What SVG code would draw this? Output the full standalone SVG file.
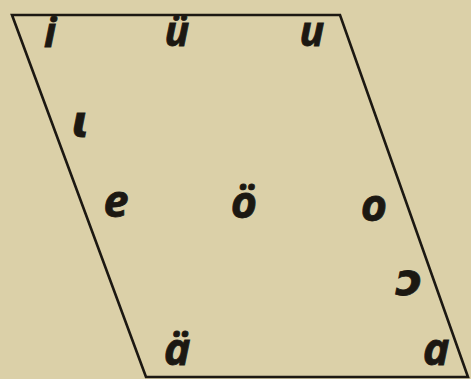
<svg xmlns="http://www.w3.org/2000/svg" width="471" height="379" viewBox="0 0 471 379">
<style>
.v{font-family:"Open Sans","DejaVu Sans",sans-serif;font-weight:bold;font-style:italic;font-size:45px;fill:#1c1812;stroke:#1c1812;stroke-width:0.8;text-anchor:middle}
.top{font-size:41px}
.frame{fill:none;stroke:#1c1812;stroke-width:2.6;stroke-linejoin:miter}
</style>
<rect width="471" height="379" fill="#dbd0a8"/>
<g id="connectors">
<path class="frame" d="M12,15 L340,15 L468,377 L146,377 Z"/>
</g>
<g id="n-i"><text class="v top" x="50" y="47">i</text></g>
<g id="n-ue"><text class="v top" x="177" y="46">ü</text></g>
<g id="n-u"><text class="v top" x="312" y="46">u</text></g>
<g id="n-iota"><text class="v" x="81" y="137">ɩ</text></g>
<g id="n-e"><text class="v" x="116" y="217">e</text></g>
<g id="n-oe"><text class="v" x="244" y="218">ö</text></g>
<g id="n-o"><text class="v" x="374" y="221">o</text></g>
<g id="n-open-o"><text class="v" x="409" y="295">ɔ</text></g>
<g id="n-ae"><text class="v" x="177" y="365">ä</text></g>
<g id="n-a"><text class="v" x="436" y="365">a</text></g>
</svg>
